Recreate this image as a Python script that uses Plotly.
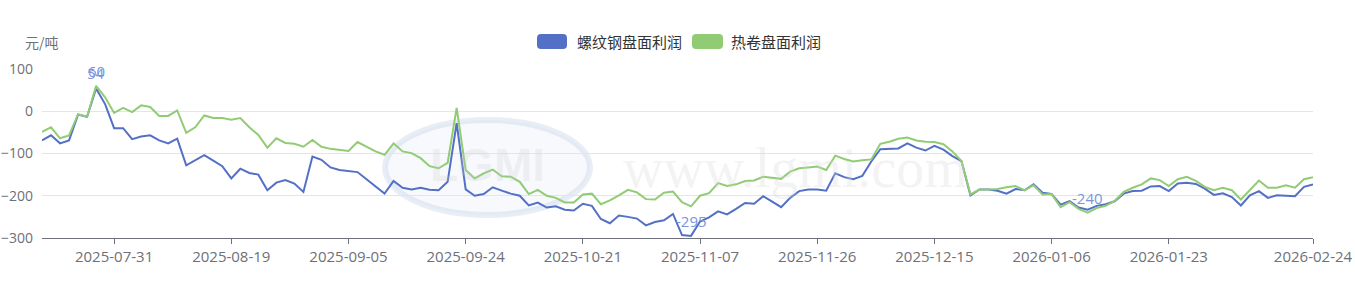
import pandas as pd
import plotly.graph_objects as go

# ---------------- data ----------------
START, END = "2025-07-21", "2026-02-24"
HOLIDAYS = ["2025-10-01", "2025-10-02", "2025-10-03", "2025-10-06", "2025-10-07", "2025-10-08",
            "2025-12-31", "2026-01-01", "2026-01-02",
            "2026-02-16", "2026-02-17", "2026-02-18", "2026-02-19", "2026-02-20", "2026-02-23"]
dates = [d.strftime("%Y-%m-%d") for d in pd.bdate_range(START, END) if d.strftime("%Y-%m-%d") not in HOLIDAYS]

rebar = [-69, -57, -76, -69, -8, -13, 54, 17, -40, -40,
         -66, -60, -57, -69, -76, -65, -128, -117, -104, -117,
         -130, -159, -136, -146, -150, -187, -169, -163, -171, -191,
         -107, -115, -133, -139, -142, -144, -161, -179, -195, -165,
         -181, -185, -181, -186, -187, -167, -28, -185, -200, -196,
         -180, -188, -195, -200, -223, -216, -228, -225, -233, -235,
         -219, -224, -255, -265, -247, -250, -254, -270, -262, -258,
         -243, -293, -295, -261, -251, -237, -244, -231, -217, -219,
         -201, -214, -227, -205, -189, -185, -185, -188, -147, -156,
         -161, -153, -119, -90, -89, -88, -76, -86, -93, -82,
         -91, -106, -118, -199, -185, -185, -188, -195, -184, -187,
         -173, -193, -196, -221, -213, -228, -233, -224, -220, -213,
         -195, -189, -188, -178, -177, -189, -171, -169, -172, -183,
         -198, -194, -203, -223, -199, -189, -205, -199, -200, -201,
         -179, -173]
hrc = [-49, -38, -64, -57, -7, -13, 60, 33, -4, 8,
       -2, 14, 10, -11, -11, 2, -51, -38, -10, -16,
       -16, -20, -16, -38, -56, -86, -64, -75, -77, -84,
       -68, -84, -89, -92, -94, -73, -85, -95, -103, -76,
       -95, -99, -111, -130, -135, -122, 8, -139, -159, -147,
       -138, -154, -155, -167, -196, -186, -200, -205, -216, -216,
       -197, -195, -220, -211, -199, -186, -192, -208, -209, -193,
       -190, -215, -225, -200, -194, -170, -177, -173, -165, -164,
       -155, -158, -160, -143, -135, -133, -131, -139, -105, -113,
       -119, -116, -114, -77, -72, -65, -62, -69, -72, -73,
       -78, -95, -118, -197, -185, -185, -184, -180, -177, -187,
       -175, -197, -196, -227, -215, -231, -240, -229, -224, -212,
       -191, -181, -173, -159, -163, -177, -161, -155, -165, -179,
       -187, -181, -187, -209, -187, -164, -181, -181, -175, -181,
       -161, -156]

SERIES = ["螺纹钢盘面利润", "热卷盘面利润"]
COLORS = ["#5470c6", "#91cc75"]
TICK_IDX = [8, 21, 34, 47, 60, 73, 86, 99, 112, 125, 141]
Y_TICKS = [-300, -200, -100, 0, 100]
UNIT = "元/吨"

# ---------------- layout helpers ----------------
W, H = 1355, 284
L, R, T, B = 42, 1313, 69, 238
def px(x):
    return (x - L) / (R - L)
def py(y):
    return (B - y) / (B - T)

FONT = "Noto Sans CJK SC, Microsoft YaHei, sans-serif"
NUMFONT = "Open Sans, Noto Sans CJK SC, sans-serif"
AX = "#6e7079"
LABEL = "#7b96dc"

fig = go.Figure()
for name, vals, col in zip(SERIES, [rebar, hrc], COLORS):
    fig.add_trace(go.Scatter(x=dates, y=vals, mode="lines", name=name,
                             line=dict(color=col, width=2), showlegend=False))

# value labels (max / min)
labels = [(dates[6], rebar[6], str(rebar[6])), (dates[6], hrc[6], str(hrc[6])),
          (dates[72], rebar[72], str(rebar[72])), (dates[116], hrc[116], str(hrc[116]))]
for xv, yv, txt in labels:
    fig.add_annotation(x=xv, y=yv, xref="x", yref="y", text=txt, showarrow=False,
                       yanchor="middle", yshift=15, font=dict(family=NUMFONT, size=15, color=LABEL))

# custom legend with rounded rects
def rrect(x0, y0, x1, y1, r):
    X = lambda v: px(v)
    Y = lambda v: py(v)
    return (f"M {X(x0+r)},{Y(y0)} L {X(x1-r)},{Y(y0)} Q {X(x1)},{Y(y0)} {X(x1)},{Y(y0+r)} "
            f"L {X(x1)},{Y(y1-r)} Q {X(x1)},{Y(y1)} {X(x1-r)},{Y(y1)} L {X(x0+r)},{Y(y1)} "
            f"Q {X(x0)},{Y(y1)} {X(x0)},{Y(y1-r)} L {X(x0)},{Y(y0+r)} Q {X(x0)},{Y(y0)} {X(x0+r)},{Y(y0)} Z")

leg = [(537, 567, 575), (692, 723, 729)]
for (x0, x1, tx), name, col in zip(leg, SERIES, COLORS):
    fig.add_shape(type="path", path=rrect(x0, 34, x1, 49, 4), xref="paper", yref="paper",
                  fillcolor=col, line=dict(width=0))
    fig.add_annotation(x=px(tx), y=py(41.5), xref="paper", yref="paper", text=name, showarrow=False,
                       xanchor="left", yanchor="middle", font=dict(family=FONT, size=15, color="#333333"))

# unit label
fig.add_annotation(x=px(23), y=py(42), xref="paper", yref="paper", text=UNIT, showarrow=False,
                   xanchor="left", yanchor="middle", font=dict(family=FONT, size=14, color=AX))

# faint watermark
fig.add_shape(type="circle", xref="paper", yref="paper", x0=px(385), x1=px(590), y0=py(120), y1=py(215),
              line=dict(color="rgba(190,205,230,0.35)", width=6), fillcolor="rgba(225,232,245,0.25)",
              layer="below")
fig.add_annotation(x=px(487), y=py(165), xref="paper", yref="paper", text="<b>LGMI</b>", showarrow=False,
                   font=dict(family="Liberation Sans", size=46, color="rgba(200,200,210,0.22)"))
fig.add_annotation(x=px(795), y=py(168), xref="paper", yref="paper", text="www.lgmi.com", showarrow=False,
                   font=dict(family="Liberation Serif", size=56, color="rgba(215,215,215,0.3)"))

fig.update_layout(
    width=W, height=H,
    margin=dict(l=L, r=W - R, t=T, b=H - B, autoexpand=False),
    plot_bgcolor="white", paper_bgcolor="white",
    font=dict(family=NUMFONT, size=15, color=AX),
    xaxis=dict(type="category", range=[0, len(dates) - 1], showgrid=False, automargin=False,
               tickvals=[dates[i] for i in TICK_IDX], ticktext=[dates[i] for i in TICK_IDX],
               ticks="outside", ticklen=5, tickcolor=AX, showline=True, linecolor=AX, linewidth=1,
               tickfont=dict(family=NUMFONT, size=15, color=AX), zeroline=False),
    yaxis=dict(range=[-300, 100], tickvals=Y_TICKS, showgrid=True, gridcolor="#e0e6f1", gridwidth=1,
               zeroline=False, showline=False, ticks="", ticklabelstandoff=8, automargin=False,
               tickfont=dict(family=NUMFONT, size=14, color=AX)),
    showlegend=False,
)
assert len(dates) == len(rebar) == len(hrc)
fig.write_html("out.html")
